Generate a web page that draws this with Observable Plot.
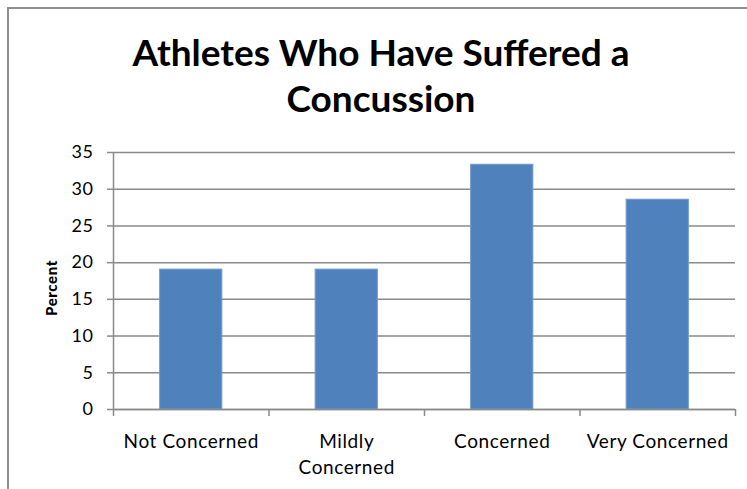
<!DOCTYPE html>
<html>
<head>
<meta charset="utf-8">
<script src="https://cdn.jsdelivr.net/npm/d3@7"></script>
<script src="https://cdn.jsdelivr.net/npm/@observablehq/plot@0.6"></script>
<style>
  body { margin: 0; background: #fff; }
  #wrap { position: relative; width: 747px; height: 489px; overflow: hidden; background: #fff; }
  #frame { position: absolute; left: 7px; top: 7px; width: 800px; height: 600px;
           border-left: 2px solid #8e8e8e; border-top: 2px solid #8e8e8e; }
  #title { position: absolute; left: 0; top: 29px; width: 762px; text-align: center;
           font: bold 37px Lato, sans-serif; line-height: 46px; color: #000; }
  #chart { position: absolute; left: 0; top: 0; }
</style>
</head>
<body>
<div id="wrap">
  <div id="frame"></div>
  <div id="chart"></div>
  <div id="title">Athletes Who Have Suffered a<br>Concussion</div>
</div>
<script>
// Share of athletes with a past concussion, by level of concern
const categories = ["Not Concerned", "Mildly Concerned", "Concerned", "Very Concerned"];
const categoryLabels = ["Not Concerned", "Mildly\nConcerned", "Concerned", "Very Concerned"];
const percents = [19.05, 19.05, 33.33, 28.57];
const yTicks = [0, 5, 10, 15, 20, 25, 30, 35];

const rows = categories.map((c, i) => ({ i, category: c, label: categoryLabels[i], value: percents[i] }));
const slots = d3.range(categories.length + 1); // category boundaries on the x axis

const axisColor = "#8a8a8a";
const font = "Lato, sans-serif";

const plot = Plot.plot({
  width: 747,
  height: 489,
  marginLeft: 113,
  marginRight: 12,
  marginTop: 152,
  marginBottom: 80,
  style: { fontFamily: font, fontSize: "18px", color: "#000", background: "transparent", letterSpacing: "0.6px" },
  x: { type: "linear", domain: [0, categories.length], axis: null },
  y: { domain: [0, 35], axis: null },
  marks: [
    Plot.gridY(yTicks, { stroke: axisColor, strokeOpacity: 1, strokeWidth: 1.5 }),
    Plot.rectY(rows, {
      x1: d => d.i + 0.3,
      x2: d => d.i + 0.7,
      y1: 0,
      y2: "value",
      fill: "#4f81bd",
      stroke: "#6f9bd0",
      strokeWidth: 1
    }),
    Plot.ruleX([0], { stroke: axisColor, strokeWidth: 1.5 }),
    Plot.ruleY([0], { stroke: axisColor, strokeWidth: 1.5 }),
    Plot.axisY({
      ticks: yTicks,
      tickSize: 6,
      tickPadding: 14,
      stroke: axisColor,
      strokeWidth: 1.5,
      label: null,
      fontSize: 18
    }),
    Plot.axisX({
      ticks: slots,
      tickFormat: () => "",
      tickSize: 7,
      stroke: axisColor,
      strokeWidth: 1.5,
      label: null
    }),
    Plot.text(rows, {
      x: d => d.i + 0.5,
      y: 0,
      text: "label",
      dy: 20,
      lineAnchor: "top",
      lineHeight: 1.38,
      fontSize: 19,
      fill: "#000"
    }),
    Plot.text(["Percent"], {
      frameAnchor: "left",
      text: d => d,
      rotate: -90,
      textAnchor: "middle",
      dx: -61,
      dy: 7,
      fontWeight: "900",
      fontSize: 15,
      fill: "#000"
    })
  ]
});

document.getElementById("chart").appendChild(plot);
</script>
</body>
</html>
